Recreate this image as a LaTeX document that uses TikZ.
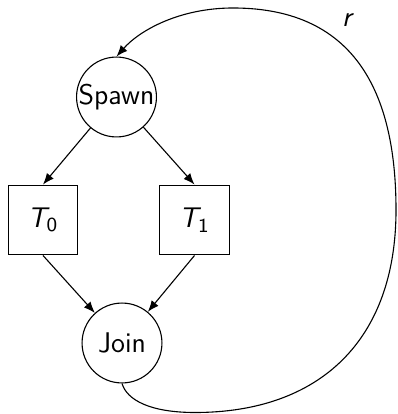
\documentclass[tikz,border=0pt]{standalone}
\usepackage{amsmath}
\usetikzlibrary{arrows.meta}
\begin{document}
\begin{tikzpicture}[x=0.408pt,y=-0.408pt,
  font=\sffamily\fontsize{11.6}{13.5}\selectfont,
  line width=0.45pt,
  state/.style={circle,draw,minimum size=32.6pt,inner sep=0pt},
  task/.style={draw,minimum size=28.5pt,inner sep=0pt},
  arr/.style={-{Latex[length=4.6pt,width=3.6pt]}}]
\useasboundingbox (0,0) rectangle (397,414);
\node[state] (spawn) at (116.5,97) {Spawn};
\node[task] (t0) at (43,220) {$\textit{T}_{\text{0}}$};
\node[task] (t1) at (194.5,220) {$\textit{T}_{\text{1}}$};
\node[state] (join) at (122,343) {Join};
\node (r) at (348,20) {\textit{r}};
\draw[arr] (spawn) -- (t0.north);
\draw[arr] (spawn) -- (t1.north);
\draw[arr] (t0.south) -- (join);
\draw[arr] (t1.south) -- (join);
\draw[arr] (join.south) .. controls (127,400) and (150,412.5) .. (195,412.5)
  .. controls (320,412.5) and (396,340) .. (396,210)
  .. controls (396,100) and (360,8) .. (233,8)
  .. controls (180,8) and (140,30) .. (spawn.north);
\end{tikzpicture}
\end{document}
